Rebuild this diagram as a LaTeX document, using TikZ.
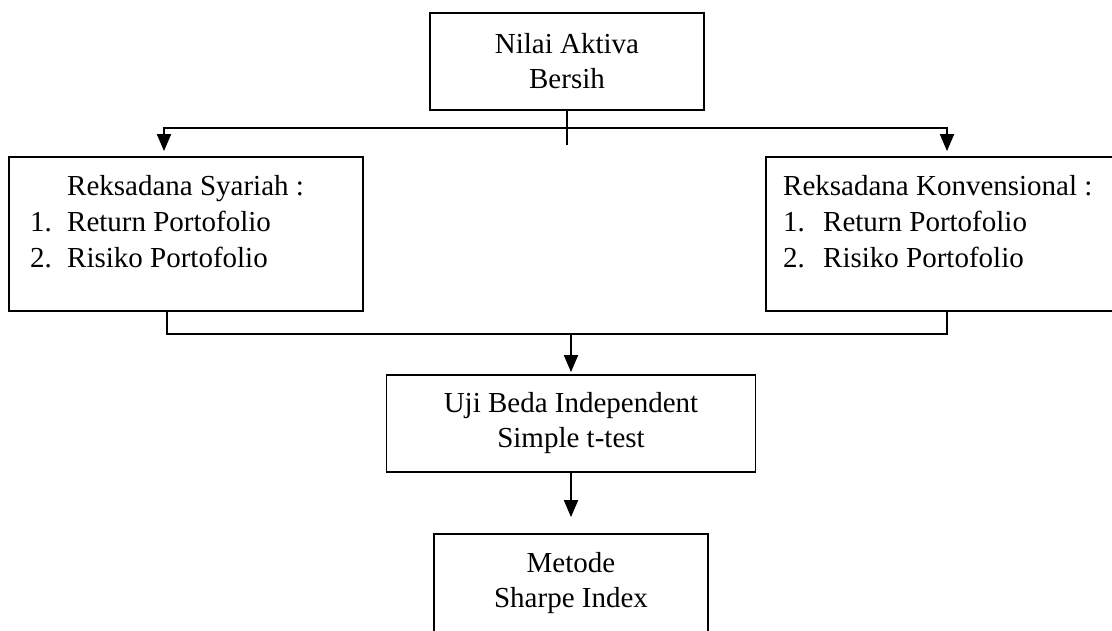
\documentclass[tikz,border=0pt]{standalone}
\usepackage{fontspec}
\setmainfont{Liberation Serif}
\usetikzlibrary{arrows.meta}
\begin{document}
\begin{tikzpicture}[x=1pt,y=-1pt,
  box/.style={draw,line width=1.8pt,inner sep=0pt},
  txt/.style={font=\fontsize{29}{35}\selectfont,align=center,inner sep=0pt},
  ltxt/.style={font=\fontsize{29}{36}\selectfont,align=left,inner sep=0pt,anchor=north west},
  ln/.style={line width=1.8pt},
  arr/.style={ln,-{Triangle[length=17pt,width=14pt]}}]
\useasboundingbox (0,0) rectangle (1112,630);
\clip (0,0) rectangle (1112,630);
% boxes
\node[box,txt,minimum width=274pt,minimum height=97pt] (top) at (567,61.5) {Nilai Aktiva\\Bersih};
\node[box,minimum width=354pt,minimum height=154pt] (left) at (186,234) {};
\node[box,minimum width=354pt,minimum height=154pt] (right) at (943,234) {};
\node[box,txt,minimum width=369pt,minimum height=97pt] (mid) at (571,423.5) {Uji Beda Independent\\Simple t-test};
\node[box,txt,minimum width=274pt,minimum height=98pt] (bot) at (571,583) {Metode\\Sharpe Index};
% list texts
\node[ltxt] (ltext) at (30,175) {\hspace*{37pt}Reksadana Syariah :\\\makebox[37pt][l]{1.}Return Portofolio\\\makebox[37pt][l]{2.}Risiko Portofolio};
\node[ltxt] (rtext) at (783,175) {Reksadana Konvensional :\\\makebox[40pt][l]{1.}Return Portofolio\\\makebox[40pt][l]{2.}Risiko Portofolio};
% connectors
\coordinate (jc) at (567,128);
\coordinate (jl) at (164,128);
\coordinate (jr) at (947,128);
\coordinate (stub) at (567,145);
\draw[ln] (top.south) -- (stub);
\draw[arr,shorten >=5pt] (jc) -- (jl) -- (jl |- left.north);
\draw[arr,shorten >=5pt] (jc) -- (jr) -- (jr |- right.north);
\coordinate (bl) at (167,334);
\coordinate (br) at (947,334);
\coordinate (bc) at (571,334);
\draw[ln] (left.south -| bl) -- (bl) -- (br) -- (right.south -| br);
\draw[arr,shorten >=2pt] (bc) -- (mid.north);
\draw[arr,shorten >=16pt] (mid.south) -- (bot.north);
\end{tikzpicture}
\end{document}
